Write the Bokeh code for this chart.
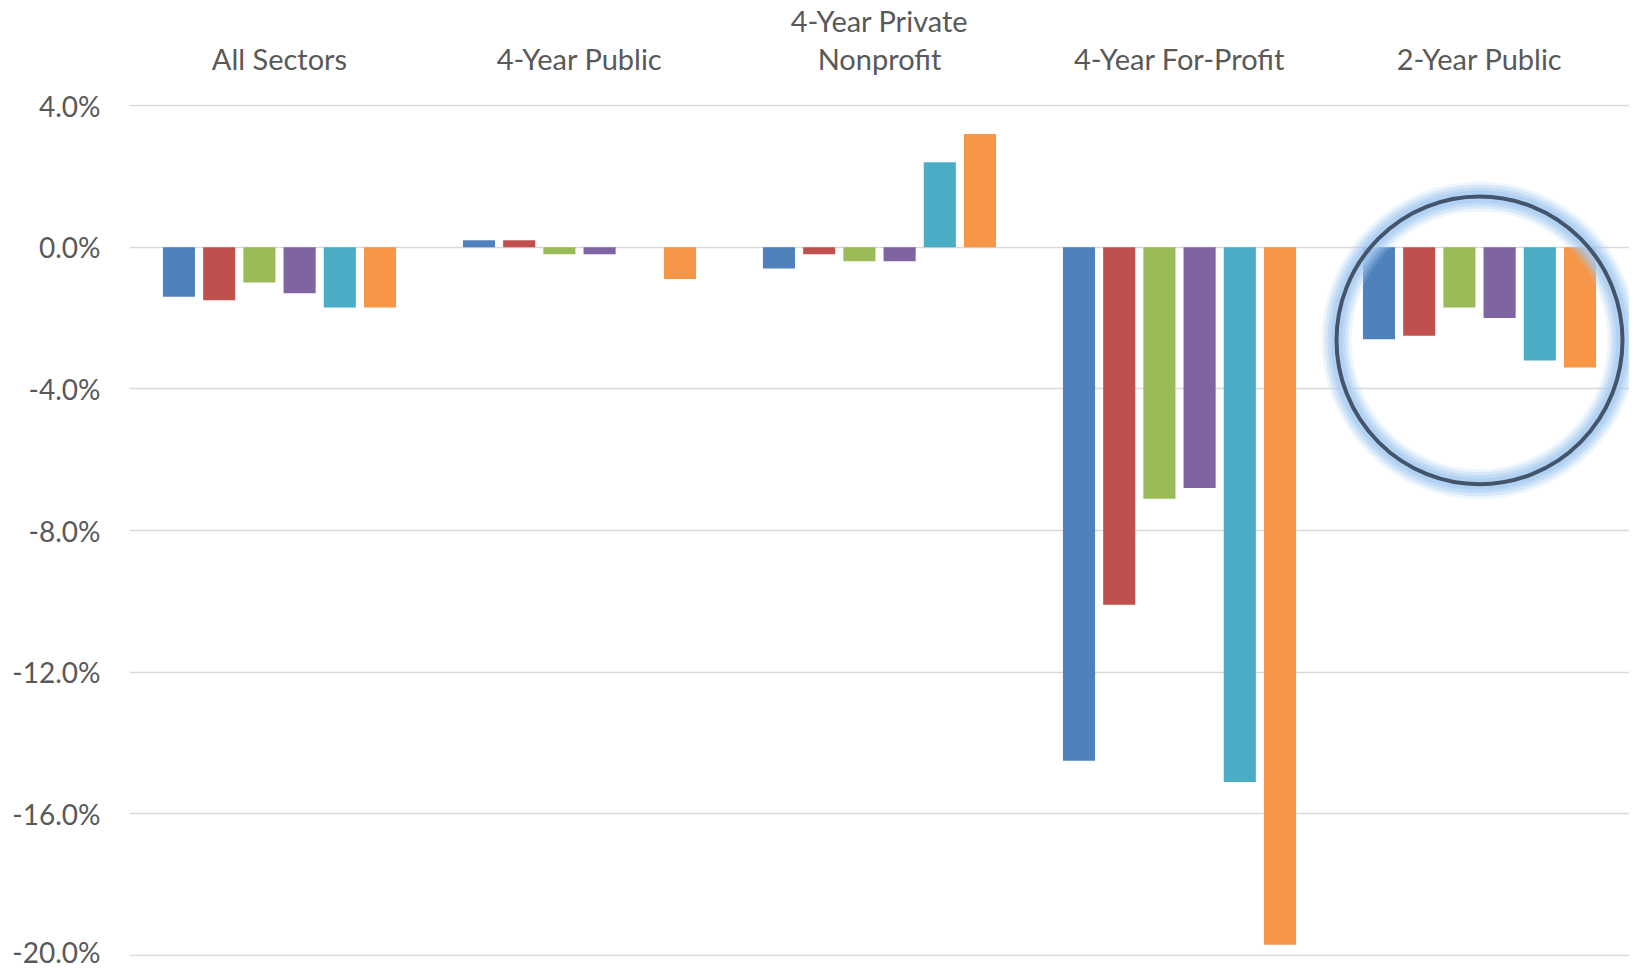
from bokeh.plotting import figure
from bokeh.models import ColumnDataSource, FactorRange, FixedTicker, PrintfTickFormatter, Range1d
from bokeh.transform import dodge
from bokeh.embed import file_html
from bokeh.resources import INLINE

categories = ["All Sectors", "4-Year Public", "4-Year Private\nNonprofit", "4-Year For-Profit", "2-Year Public"]
series_names = ["s1", "s2", "s3", "s4", "s5", "s6"]
s1 = [-1.4, 0.2, -0.6, -14.5, -2.6]
s2 = [-1.5, 0.2, -0.2, -10.1, -2.5]
s3 = [-1.0, -0.2, -0.4, -7.1, -1.7]
s4 = [-1.3, -0.2, -0.4, -6.8, -2.0]
s5 = [-1.7, 0.0, 2.4, -15.1, -3.2]
s6 = [-1.7, -0.9, 3.2, -19.7, -3.4]
series_values = [s1, s2, s3, s4, s5, s6]
colors = ["#4F81BD", "#C0504D", "#9BBB59", "#8064A2", "#4BACC6", "#F79646"]
y_ticks = [-20, -16, -12, -8, -4, 0, 4]

highlight_category = "2-Year Public"
highlight_center_y = -2.63

FONT = "Lato"
TEXT_COLOR = "#595959"

data = {"cat": categories}
for name, vals in zip(series_names, series_values):
    data[name] = vals
source = ColumnDataSource(data)

p = figure(
    x_range=FactorRange(*categories, range_padding=0, factor_padding=0),
    y_range=Range1d(-20.03, 4.03),
    frame_width=1500, frame_height=852,
    min_border_left=129, min_border_right=0, min_border_top=103, min_border_bottom=12,
    x_axis_location="above",
    output_backend="svg", toolbar_location=None,
)
p.outline_line_color = None
p.background_fill_color = "white"
p.border_fill_color = "white"
p.xgrid.grid_line_color = None
p.ygrid.grid_line_color = "#D9D9D9"
p.ygrid.grid_line_width = 1.5
p.ygrid.ticker = FixedTicker(ticks=y_ticks)

p.yaxis.ticker = FixedTicker(ticks=y_ticks)
p.yaxis.formatter = PrintfTickFormatter(format="%.1f%%")
p.yaxis.axis_line_color = None
p.yaxis.major_tick_line_color = None
p.yaxis.minor_tick_line_color = None
p.yaxis.major_label_standoff = 23
p.yaxis.major_label_text_font = FONT
p.yaxis.major_label_text_font_size = "28px"
p.yaxis.major_label_text_color = TEXT_COLOR

p.xaxis.axis_line_color = None
p.xaxis.major_tick_line_color = None
p.xaxis.minor_tick_line_color = None
p.xaxis.major_label_standoff = 23
p.xaxis.major_label_text_font = FONT
p.xaxis.major_label_text_font_size = "29px"
p.xaxis.major_label_text_color = TEXT_COLOR
p.xaxis.major_label_text_line_height = 1.07

step = 0.134
bar_w = 0.107
for j, (name, col) in enumerate(zip(series_names, colors)):
    p.vbar(x=dodge("cat", (j - 2.5) * step, range=p.x_range), top=name, bottom=0,
           width=bar_w, source=source, fill_color=col, line_color=None)

# glow + highlight ring
for lw, a in [(30, 0.2), (24, 0.3), (18, 0.4), (12, 0.6)]:
    p.ellipse(x=[highlight_category], y=[highlight_center_y], width=286, height=288,
              width_units="screen", height_units="screen",
              fill_color=None, line_color="#A6CBF3", line_width=lw, line_alpha=a)
p.ellipse(x=[highlight_category], y=[highlight_center_y], width=286, height=288,
          width_units="screen", height_units="screen",
          fill_color=None, line_color="#44546A", line_width=4)

open("out.html", "w").write(file_html(p, INLINE))
